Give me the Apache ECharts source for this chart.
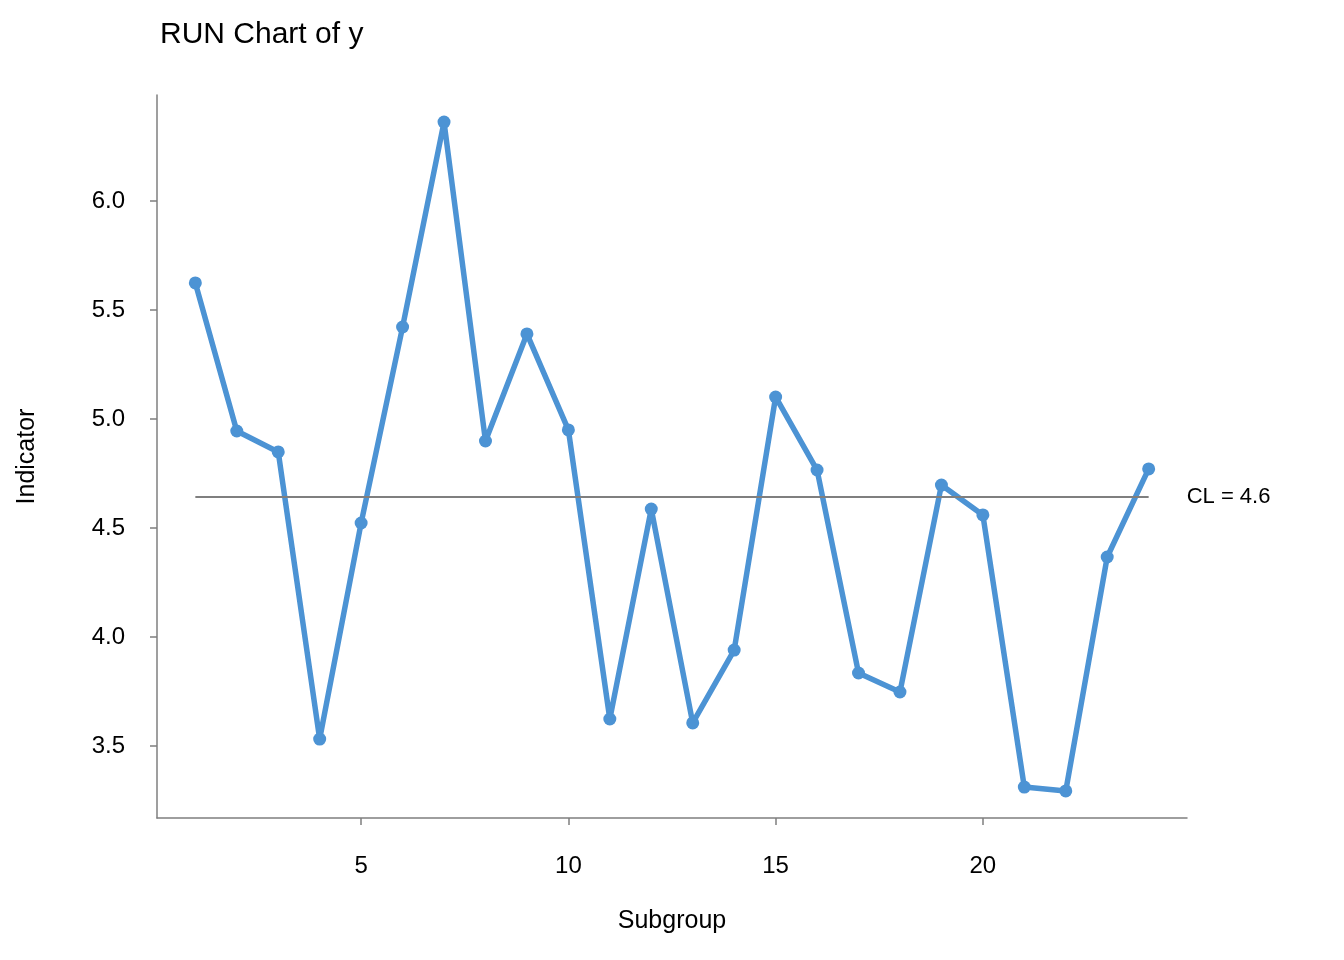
<!DOCTYPE html>
<html>
<head>
<meta charset="utf-8">
<script src="https://cdn.jsdelivr.net/npm/echarts@6/dist/echarts.min.js"></script>
<style>
html,body{margin:0;padding:0;background:#fff;}
#chart{width:1344px;height:960px;}
</style>
</head>
<body>
<div id="chart"></div>
<script>
var subgroups = [1,2,3,4,5,6,7,8,9,10,11,12,13,14,15,16,17,18,19,20,21,22,23,24];
var yValues = [5.624,4.945,4.849,3.532,4.523,5.422,6.362,4.899,5.390,4.950,3.624,4.587,3.606,3.940,5.101,4.766,3.835,3.748,4.697,4.560,3.312,3.294,4.367,4.771];
var centerLine = [4.642];
var xTicks = [5,10,15,20];
var yTicks = [3.5,4.0,4.5,5.0,5.5,6.0];

var font = 'Liberation Sans, Arial, Helvetica, sans-serif';
var axisColor = '#7f7f7f';
var chart = echarts.init(document.getElementById('chart'), null, {renderer:'canvas'});
var pts = subgroups.map(function(x,i){return [x, yValues[i]];});
chart.setOption({
  animation:false,
  backgroundColor:'#ffffff',
  title:{text:'RUN Chart of y', left:155, top:15, textStyle:{fontFamily:font, fontWeight:'normal', fontSize:30, color:'#000'}},
  grid:{left:157, right:157, top:95, bottom:142, containLabel:false},
  xAxis:{
    type:'value', min:0.075, max:24.925,
    name:'Subgroup', nameLocation:'middle', nameGap:91,
    nameTextStyle:{fontFamily:font, fontSize:25, color:'#000'},
    axisLine:{show:true, lineStyle:{color:axisColor, width:1.5}},
    axisTick:{show:true, length:7, lineStyle:{color:axisColor, width:1.5}, customValues:xTicks},
    axisLabel:{fontFamily:font, fontSize:24, color:'#000', margin:36, customValues:xTicks, formatter:function(v){return String(v);}},
    splitLine:{show:false}
  },
  yAxis:{
    type:'value', min:3.17, max:6.486,
    name:'Indicator', nameLocation:'middle', nameGap:117,
    nameTextStyle:{fontFamily:font, fontSize:25, color:'#000'},
    axisLine:{show:true, lineStyle:{color:axisColor, width:1.5}},
    axisTick:{show:true, length:7, lineStyle:{color:axisColor, width:1.5}, customValues:yTicks},
    axisLabel:{fontFamily:font, fontSize:24, color:'#000', margin:32, customValues:yTicks, formatter:function(v){return v.toFixed(1);}},
    splitLine:{show:false}
  },
  series:[{
    type:'line', data:pts, symbol:'circle', symbolSize:13,
    lineStyle:{color:'#4C93D4', width:5.5},
    itemStyle:{color:'#4C93D4'},
    markLine:{
      silent:true, symbol:['none','none'],
      lineStyle:{color:'#7f7f7f', width:2, type:'solid'},
      label:{show:true, position:'end', distance:38, fontFamily:font, fontSize:22, color:'#000',
        formatter:function(){return 'CL = ' + centerLine[0].toFixed(1);}},
      data:[[{coord:[subgroups[0], centerLine[0]]},{coord:[subgroups[subgroups.length-1], centerLine[0]]}]]
    },
    z:3
  }]
});
</script>
</body>
</html>
